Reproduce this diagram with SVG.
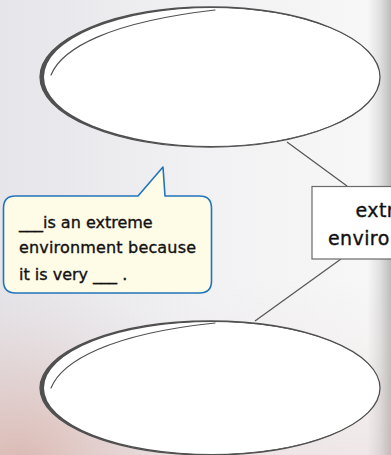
<svg xmlns="http://www.w3.org/2000/svg" width="391" height="455" viewBox="0 0 391 455">
  <defs>
    <linearGradient id="bgH" x1="0" y1="0" x2="1" y2="0">
      <stop offset="0" stop-color="#e5e5ea"/>
      <stop offset="0.5" stop-color="#f1f1f3"/>
      <stop offset="0.94" stop-color="#f7f7f7"/>
      <stop offset="0.97" stop-color="#e2e2e2"/>
      <stop offset="1" stop-color="#bdbdbd"/>
    </linearGradient>
    <radialGradient id="warm" cx="20" cy="470" r="200" gradientUnits="userSpaceOnUse">
      <stop offset="0" stop-color="#d49a88" stop-opacity="0.55"/>
      <stop offset="0.5" stop-color="#dcb8b0" stop-opacity="0.3"/>
      <stop offset="1" stop-color="#e8dcdc" stop-opacity="0"/>
    </radialGradient>
    <linearGradient id="warmR" x1="0" y1="0" x2="0" y2="1">
      <stop offset="0" stop-color="#e0c8c8" stop-opacity="0"/>
      <stop offset="1" stop-color="#d8b8b8" stop-opacity="0.25"/>
    </linearGradient>
  </defs>
  <style>
    .oval { fill: #ffffff; stroke: #505050; stroke-width: 1.3; }
    .thick { fill: #505050; fill-rule: evenodd; stroke: none; }
    .inner { fill: none; stroke: #505050; stroke-width: 1.2; stroke-linecap: round; }
    .conn { stroke: #555555; stroke-width: 1.2; fill: none; }
    .box { fill: #ffffff; stroke: #6a6a6a; stroke-width: 1.2; }
    .boxtxt { font-family: "DejaVu Sans", "Noto Sans", sans-serif; font-size: 19px; fill: #111111; stroke: #111111; stroke-width: 0.35; letter-spacing: 0.4px; }
    .call { fill: #fefbe7; stroke: #2274bd; stroke-width: 1.6; stroke-linejoin: round; }
    .calltxt { font-family: "DejaVu Sans", "Noto Sans", sans-serif; font-size: 16px; fill: #111111; stroke: #111111; stroke-width: 0.35; }
  </style>

  <rect x="0" y="0" width="391" height="455" fill="url(#bgH)"/>
  <rect x="0" y="280" width="391" height="175" fill="url(#warmR)"/>
  <rect x="0" y="200" width="391" height="255" fill="url(#warm)"/>

  <g id="connectors">
    <line class="conn" x1="287" y1="142" x2="347" y2="186"/>
    <line class="conn" x1="341" y1="259" x2="255" y2="321"/>
  </g>

  <g id="node-top">
    <ellipse class="oval" cx="210" cy="77" rx="170" ry="70"/>
    <path class="thick" d="M40,77 a170,70 0 1,0 340,0 a170,70 0 1,0 -340,0 Z M44,77 a168,69 0 1,0 336,0 a168,69 0 1,0 -336,0 Z"/>
    <path class="inner" d="M51,75 C62,48 110,22 215,10"/>
  </g>

  <g id="node-bottom">
    <ellipse class="oval" cx="210" cy="388" rx="170" ry="67"/>
    <path class="thick" d="M40,388 a170,67 0 1,0 340,0 a170,67 0 1,0 -340,0 Z M44,388 a168,66 0 1,0 336,0 a168,66 0 1,0 -336,0 Z"/>
    <path class="inner" d="M51,388 C62,361 110,334 215,323"/>
  </g>

  <g id="node-box">
    <rect class="box" x="312" y="186.5" width="100" height="72.5"/>
    <text class="boxtxt" x="355.5" y="217">extreme</text>
    <text class="boxtxt" x="328" y="244.5">environment</text>
  </g>

  <g id="node-callout">
    <path class="call" d="M15.5,196 L138,196 L163,167 L165,196 L199.5,196 Q211.5,196 211.5,208 L211.5,281 Q211.5,293 199.5,293 L15.5,293 Q3.5,293 3.5,281 L3.5,208 Q3.5,196 15.5,196 Z"/>
    <text class="calltxt" x="19" y="228">___is an extreme</text>
    <text class="calltxt" x="19" y="253" textLength="177" lengthAdjust="spacing">environment because</text>
    <text class="calltxt" x="19" y="280">it is very ___ .</text>
  </g>
</svg>
